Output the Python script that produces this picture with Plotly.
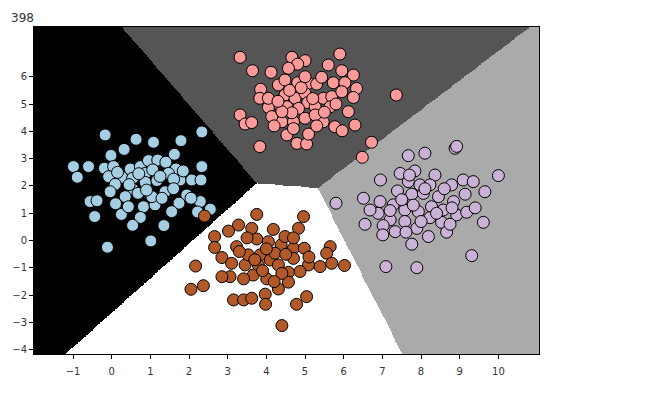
import numpy as np
import plotly.graph_objects as go

# ---- data ----
blue_x = [-0.17, 0.63, 1.08, 1.79, 2.33, 0.32, -0.02, 1.62, -0.99, -0.60, -0.19, 0.05, 0.48, 0.74, 0.95, 1.19,
          1.40, 1.66, 2.33, -0.89, -0.08, 0.26, 0.54, 0.87, 1.06, 1.47, 1.77, 2.07, 2.31, 0.09, 0.54, 0.87,
          1.17, 1.60, -0.04, 0.35, 0.68, 1.38, 1.94, -0.56, -0.38, 0.82, 1.12, 1.74, 1.55, 2.29, 2.22, -0.44,
          0.25, 0.74, 0.54, 1.35, 1.01, -0.11, 2.55, 1.04, 0.43,
          0.70, 1.25, 0.15, 0.45, 1.30, 0.90, 1.60, 0.10, 1.85, 2.05]
blue_y = [3.87, 3.71, 3.60, 3.66, 3.98, 3.34, 3.12, 3.16, 2.71, 2.71, 2.65, 2.71, 2.62, 2.71, 2.93, 2.95,
          2.87, 2.62, 2.71, 2.32, 2.34, 2.32, 2.28, 2.46, 2.59, 2.46, 2.22, 2.22, 2.22, 2.06, 1.89, 2.13,
          2.20, 2.25, 1.79, 1.61, 1.73, 1.79, 1.67, 1.43, 1.46, 1.24, 1.31, 1.37, 1.06, 1.43, 1.05, 0.88,
          0.96, 0.85, 0.56, 0.55, -0.01, -0.24, 1.15, 1.61, 1.24,
          2.45, 2.35, 2.50, 2.05, 1.55, 1.85, 1.90, 1.35, 2.55, 1.55]

pink_x = [3.32, 3.64, 4.12, 4.66, 5.00, 4.81, 4.57, 5.90, 5.60, 5.95, 6.25, 3.85, 3.83, 4.05, 4.31, 4.48,
          4.81, 5.09, 5.30, 5.43, 5.73, 6.03, 6.33, 6.25, 4.48, 4.35, 4.74, 5.00, 5.07, 4.83, 4.53, 5.26,
          5.47, 5.69, 5.95, 5.65, 6.12, 3.32, 3.45, 3.62, 4.40, 4.70, 5.00, 5.47, 5.77, 5.96, 6.29, 4.53,
          4.79, 5.04, 5.09, 3.83, 6.72, 6.48, 4.66, 5.26, 4.14, 4.40, 4.05, 7.36,
          4.60, 5.20, 4.90, 5.50, 4.30, 5.80, 4.70, 5.30, 4.20, 5.00]
pink_y = [6.71, 6.22, 6.16, 6.71, 6.59, 6.46, 6.31, 6.83, 6.43, 6.22, 6.06, 5.54, 5.21, 4.88, 5.70, 5.88,
          5.78, 5.76, 5.73, 5.98, 5.78, 5.78, 5.57, 5.24, 5.33, 4.96, 5.21, 5.39, 5.05, 4.84, 4.90, 4.90,
          5.21, 5.27, 5.45, 4.90, 4.72, 4.60, 4.27, 4.32, 4.35, 4.35, 4.48, 4.35, 4.17, 4.02, 4.23, 3.87,
          3.56, 3.54, 3.90, 3.44, 3.60, 3.05, 4.68, 4.60, 4.54, 4.72, 5.21, 5.33,
          5.50, 5.20, 5.60, 4.70, 5.10, 5.00, 4.10, 4.20, 4.20, 6.00]

purple_x = [8.88, 8.92, 8.10, 7.67, 7.84, 8.36, 7.46, 6.95, 7.67, 7.97, 8.23, 8.79, 9.09, 9.35, 10.00, 9.65,
            7.39, 7.76, 8.06, 8.45, 8.84, 9.14, 6.51, 5.80, 6.94, 7.28, 7.58, 7.93, 8.27, 8.57, 8.92, 9.18,
            6.89, 7.20, 7.58, 7.89, 8.23, 8.53, 6.55, 7.02, 7.33, 7.61, 8.19, 8.66, 9.61, 7.01, 7.76, 9.31,
            7.09, 7.89, 6.68, 8.75,
            7.80, 8.10, 7.50, 8.60, 8.00, 8.40, 7.20, 8.80, 9.40, 7.70]
purple_y = [3.38, 3.45, 3.20, 3.11, 2.55, 2.40, 2.46, 2.22, 2.16, 2.04, 2.04, 2.04, 2.22, 2.16, 2.38, 1.79,
            1.82, 1.70, 1.73, 1.61, 1.43, 1.70, 1.55, 1.37, 1.43, 1.31, 1.12, 1.06, 1.24, 1.12, 0.94, 1.04,
            1.00, 0.76, 0.70, 0.45, 0.84, 0.67, 0.60, 0.55, 0.33, 0.31, 0.15, 0.31, 0.67, 0.21, -0.13, -0.55,
            -0.95, -0.99, 1.12, 0.60,
            1.30, 1.90, 1.50, 1.90, 0.70, 1.00, 1.10, 1.20, 1.20, 2.40]

brown_x = [3.75, 4.96, 4.83, 4.18, 3.28, 3.62, 3.02, 2.66, 2.66, 2.85, 3.23, 3.75, 4.05, 4.38, 4.70, 4.98,
           4.48, 5.65, 5.56, 3.84, 4.10, 3.45, 3.10, 4.31, 4.70, 5.09, 5.39, 5.69, 6.02, 4.87, 4.57, 3.66,
           3.41, 3.06, 2.85, 4.01, 2.17, 2.05, 2.37, 3.15, 3.41, 3.62, 3.97, 3.98, 4.31, 4.57, 4.78, 5.04,
           4.40, 3.53, 4.22, 3.79, 2.40,
           4.00, 4.50, 3.70, 4.40, 3.30, 5.10, 4.20, 3.90, 4.70, 3.50]
brown_y = [0.96, 0.88, 0.45, 0.41, 0.57, 0.45, 0.35, 0.15, -0.25, -0.62, -0.22, 0.06, -0.04, -0.16, -0.28, -0.28,
           0.15, -0.22, -0.46, -0.52, -0.71, -0.89, -0.83, -0.89, -0.65, -0.89, -0.95, -0.83, -0.91, -1.13, -1.16, -1.26,
           -1.40, -1.32, -1.32, -1.40, -0.93, -1.78, -1.65, -2.17, -2.17, -2.11, -1.96, -2.33, -1.77, -1.52, -2.33, -2.05,
           -3.11, -0.52, -0.46, -0.89, 0.90,
           -0.30, -0.50, -0.70, -1.20, -0.40, -0.60, -1.50, -1.10, 0.10, 0.10]

# linear decision function read from the boundaries (classes: blue, pink, purple, brown)
coef = [[0.0, 0.0], [5.72, 3.49], [11.18, -1.59], [4.88, -3.86]]
intercept = [0.0, -28.78, -48.06, -10.17]

point_colors = ["#a6cee3", "#fb9a99", "#cab2d6", "#b15928"]
region_colors = ["#000000", "#555555", "#aaaaaa", "#ffffff"]

x_range = [-2.01, 11.05]
y_range = [-4.15, 7.82]
x_ticks = list(range(-1, 11))
y_ticks = list(range(-4, 7))

# ---- decision regions ----
h = 0.025
xx = np.arange(x_range[0], x_range[1] + h, h)
yy = np.arange(y_range[0], y_range[1] + h, h)
XX, YY = np.meshgrid(xx, yy)
scores = np.stack([c[0] * XX + c[1] * YY + b for c, b in zip(coef, intercept)])
Z = scores.argmax(axis=0)

cs = []
for i, col in enumerate(region_colors):
    cs.append([i / 4, col])
    cs.append([(i + 1) / 4, col])

fig = go.Figure()
fig.add_trace(go.Heatmap(x=xx, y=yy, z=Z, zmin=-0.5, zmax=3.5, colorscale=cs,
                         showscale=False, hoverinfo="skip", zsmooth=False))

xs = [blue_x, pink_x, purple_x, brown_x]
ys = [blue_y, pink_y, purple_y, brown_y]
for k in range(4):
    fig.add_trace(go.Scatter(x=xs[k], y=ys[k], mode="markers",
                             marker=dict(size=12, color=point_colors[k],
                                         line=dict(color="black", width=1)),
                             showlegend=False))

axis_common = dict(showgrid=False, zeroline=False, showline=True, mirror=True,
                   linecolor="black", linewidth=1, ticks="outside", ticklen=4,
                   tickcolor="black", automargin=False,
                   tickfont=dict(family="DejaVu Sans", size=10, color="#333333"))
fig.update_xaxes(range=x_range, tickvals=x_ticks, ticklabelstandoff=4, **axis_common)
fig.update_yaxes(range=y_range, tickvals=y_ticks, **axis_common)

fig.add_annotation(text="398", xref="paper", yref="paper", x=-0.05, y=1.055,
                   xanchor="left", yanchor="top", showarrow=False,
                   font=dict(family="DejaVu Sans", size=12, color="#333333"))

fig.update_layout(width=650, height=377, margin=dict(l=26, r=119, t=19, b=31),
                  plot_bgcolor="white", paper_bgcolor="white")

fig.write_html("out.html")
